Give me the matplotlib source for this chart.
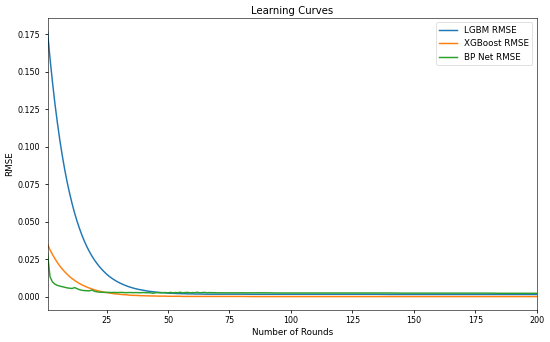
import matplotlib
matplotlib.use("Agg")
import matplotlib.pyplot as plt

# rounds: every round up to 70, then every 5th round
rounds = list(range(1, 71)) + list(range(75, 201, 5))

lgbm_rmse = [
    0.1770, 0.1593, 0.1434, 0.1290, 0.1162, 0.1046, 0.0942, 0.0848, 0.0764, 0.0689,
    0.0621, 0.0560, 0.0505, 0.0456, 0.0411, 0.0371, 0.0335, 0.0303, 0.0274, 0.0248,
    0.0225, 0.0204, 0.0185, 0.0168, 0.0152, 0.0138, 0.0126, 0.0115, 0.0105, 0.0096,
    0.0088, 0.0081, 0.0074, 0.0068, 0.0063, 0.0058, 0.0054, 0.0050, 0.0047, 0.0044,
    0.0041, 0.0038, 0.0036, 0.0034, 0.0032, 0.0031, 0.0029, 0.0028, 0.0027, 0.0025,
    0.0024, 0.0024, 0.0023, 0.0022, 0.0022, 0.0021, 0.0021, 0.0020, 0.0020, 0.0020,
    0.0019, 0.0019, 0.0019, 0.0019, 0.0018, 0.0018, 0.0018, 0.0018, 0.0018, 0.0018,
    0.0018, 0.0018, 0.0017, 0.0017, 0.0017, 0.0017, 0.0017, 0.0017, 0.0017, 0.0017,
    0.0017, 0.0017, 0.0017, 0.0016, 0.0016, 0.0016, 0.0016, 0.0016, 0.0016, 0.0016,
    0.0016, 0.0016, 0.0016, 0.0016, 0.0016, 0.0016,
]

xgb_rmse = [
    0.0350, 0.0315, 0.0283, 0.0255, 0.0229, 0.0206, 0.0186, 0.0167, 0.0151, 0.0135,
    0.0122, 0.0110, 0.0099, 0.0089, 0.0080, 0.0073, 0.0065, 0.0059, 0.0053, 0.0048,
    0.0043, 0.0039, 0.0035, 0.0032, 0.0029, 0.0026, 0.0024, 0.0021, 0.0020, 0.0018,
    0.0016, 0.0015, 0.0014, 0.0012, 0.0011, 0.0010, 0.0010, 0.0009, 0.0008, 0.0008,
    0.0007, 0.0007, 0.0006, 0.0006, 0.0006, 0.0005, 0.0005, 0.0005, 0.0005, 0.0004,
    0.0004, 0.0004, 0.0004, 0.0004, 0.0004, 0.0003, 0.0003, 0.0003, 0.0003, 0.0003,
    0.0003, 0.0003, 0.0003, 0.0003, 0.0003, 0.0003, 0.0003, 0.0003, 0.0003, 0.0003,
    0.0003, 0.0003, 0.0002, 0.0002, 0.0002, 0.0002, 0.0002, 0.0002, 0.0002, 0.0002,
    0.0002, 0.0002, 0.0002, 0.0002, 0.0002, 0.0002, 0.0002, 0.0002, 0.0002, 0.0002,
    0.0002, 0.0002, 0.0002, 0.0002, 0.0002, 0.0002,
]

bp_rmse = [
    0.0290, 0.0135, 0.0100, 0.0085, 0.0077, 0.0072, 0.0068, 0.0064, 0.0060, 0.0058,
    0.0056, 0.0062, 0.0055, 0.0048, 0.0044, 0.0042, 0.0041, 0.0040, 0.0046, 0.0038,
    0.0034, 0.0032, 0.0031, 0.0030, 0.0030, 0.0030, 0.0029, 0.0030, 0.0029, 0.0029,
    0.0030, 0.0029, 0.0028, 0.0029, 0.0029, 0.0028, 0.0029, 0.0028, 0.0028, 0.0029,
    0.0028, 0.0028, 0.0027, 0.0024, 0.0028, 0.0028, 0.0027, 0.0028, 0.0029, 0.0027,
    0.0030, 0.0027, 0.0029, 0.0028, 0.0031, 0.0027, 0.0029, 0.0030, 0.0027, 0.0029,
    0.0028, 0.0031, 0.0027, 0.0029, 0.0030, 0.0027, 0.0029, 0.0028, 0.0028, 0.0027,
    0.0027, 0.0027, 0.0027, 0.0027, 0.0026, 0.0026, 0.0026, 0.0026, 0.0026, 0.0026,
    0.0026, 0.0026, 0.0026, 0.0026, 0.0025, 0.0025, 0.0025, 0.0025, 0.0025, 0.0025,
    0.0025, 0.0025, 0.0024, 0.0024, 0.0024, 0.0024,
]

dpi = 52.4
fig = plt.figure(figsize=(550 / dpi, 342 / dpi), dpi=dpi)
plt.subplots_adjust(left=0.0864, right=0.976, top=0.947, bottom=0.094)
plt.plot(rounds, lgbm_rmse, label='LGBM RMSE', lw=2)
plt.plot(rounds, xgb_rmse, label='XGBoost RMSE', lw=2)
plt.plot(rounds, bp_rmse, label='BP Net RMSE', lw=2)
plt.xlim(1, 200)
plt.tick_params(axis='both', labelsize=11, length=4.5, width=1.1)
plt.tick_params(axis='y', pad=6)
plt.tick_params(axis='x', pad=4)
plt.title('Learning Curves', fontsize=14)
plt.xlabel('Number of Rounds', fontsize=12)
plt.ylabel('RMSE', fontsize=12)
plt.legend(loc='upper right', fontsize=12)
plt.savefig('out.png', dpi=dpi)
